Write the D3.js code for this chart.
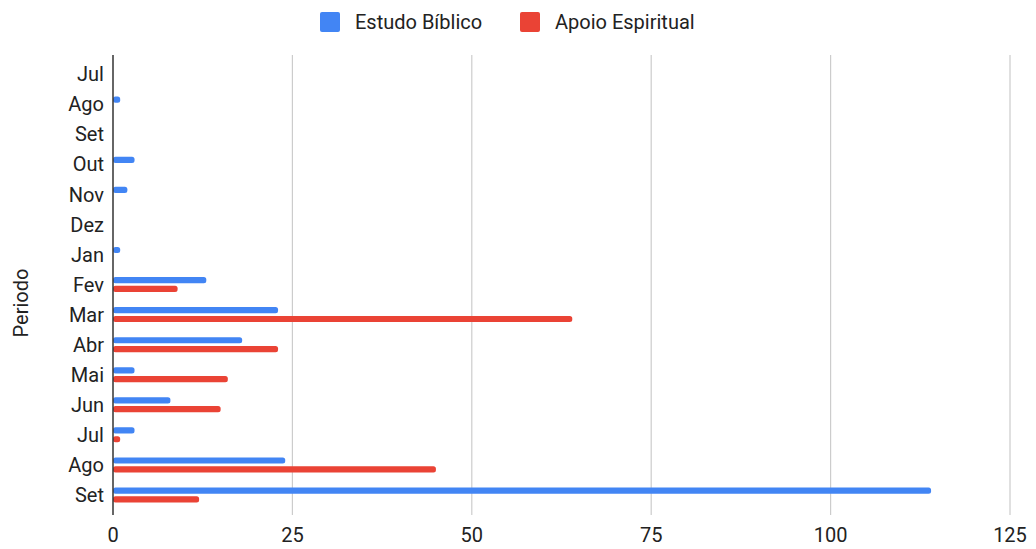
<!DOCTYPE html>
<html>
<head>
<meta charset="utf-8">
<script src="https://cdn.jsdelivr.net/npm/d3@7"></script>
<style>
  html, body { margin: 0; padding: 0; background: #fff; }
  svg { display: block; font-family: Roboto, Arial, sans-serif; }
</style>
</head>
<body>
<svg id="chart" width="1036" height="549"></svg>
<script>
// Monthly periods (two consecutive Jul..Set spans)
const periods = ["Jul", "Ago", "Set", "Out", "Nov", "Dez", "Jan", "Fev", "Mar", "Abr", "Mai", "Jun", "Jul", "Ago", "Set"];
const estudoBiblico = [0, 1, 0, 3, 2, 0, 1, 13, 23, 18, 3, 8, 3, 24, 114];
const apoioEspiritual = [0, 0, 0, 0, 0, 0, 0, 9, 64, 23, 16, 15, 1, 45, 12];
const xTicks = [0, 25, 50, 75, 100, 125];
const seriesNames = ["Estudo Bíblico", "Apoio Espiritual"];
const seriesColors = ["#4285F4", "#EA4335"];

const svg = d3.select("#chart");
const plotLeft = 113, plotRight = 1010, plotTop = 55, plotBottom = 515;

const rows = periods.map((p, i) => ({ key: i, label: p, values: [estudoBiblico[i], apoioEspiritual[i]] }));

const x = d3.scaleLinear().domain([0, 125]).range([plotLeft, plotRight]);
const y = d3.scaleBand().domain(rows.map(r => r.key)).range([59, 510]);
const inner = d3.scaleBand().domain([0, 1]).range([y.bandwidth() / 2 - 7.5, y.bandwidth() / 2 + 7.5]).paddingInner(0.3);

// Vertical gridlines
svg.append("g").selectAll("line")
  .data(xTicks.filter(t => t > 0))
  .join("line")
  .attr("x1", d => x(d)).attr("x2", d => x(d))
  .attr("y1", plotTop).attr("y2", plotBottom)
  .attr("stroke", "#cccccc").attr("stroke-width", 1.2);

// Bars
const groups = svg.append("g").selectAll("g")
  .data(rows)
  .join("g")
  .attr("transform", d => `translate(0,${y(d.key)})`);

groups.selectAll("rect")
  .data(d => d.values.map((v, s) => ({ v, s })).filter(e => e.v > 0))
  .join("rect")
  .attr("x", x(0))
  .attr("y", d => inner(d.s))
  .attr("width", d => x(d.v) - x(0))
  .attr("height", inner.bandwidth())
  .attr("rx", 2.5)
  .attr("fill", d => seriesColors[d.s]);

// Baseline
svg.append("line")
  .attr("x1", x(0)).attr("x2", x(0))
  .attr("y1", plotTop).attr("y2", plotBottom)
  .attr("stroke", "#333").attr("stroke-width", 1.5);

// Category labels
svg.append("g").selectAll("text")
  .data(rows)
  .join("text")
  .attr("x", 104)
  .attr("y", d => y(d.key) + y.bandwidth() / 2)
  .attr("dy", "0.36em")
  .attr("text-anchor", "end")
  .attr("font-size", 20)
  .attr("fill", "#222")
  .text(d => d.label);

// Value tick labels
svg.append("g").selectAll("text")
  .data(xTicks)
  .join("text")
  .attr("x", d => x(d))
  .attr("y", 542)
  .attr("text-anchor", "middle")
  .attr("font-size", 20)
  .attr("fill", "#222")
  .text(d => d);

// Axis title
svg.append("text")
  .attr("transform", "translate(28,303) rotate(-90)")
  .attr("text-anchor", "middle")
  .attr("font-size", 20)
  .attr("fill", "#222")
  .text("Periodo");

// Legend
const legendX = [320, 520];
const legend = svg.append("g").selectAll("g")
  .data(seriesNames)
  .join("g")
  .attr("transform", (d, i) => `translate(${legendX[i]},12)`);
legend.append("rect")
  .attr("width", 20).attr("height", 20).attr("rx", 2)
  .attr("fill", (d, i) => seriesColors[i]);
legend.append("text")
  .attr("x", 35).attr("y", 10).attr("dy", "0.36em")
  .attr("font-size", 20)
  .attr("fill", "#222")
  .text(d => d);
</script>
</body>
</html>
